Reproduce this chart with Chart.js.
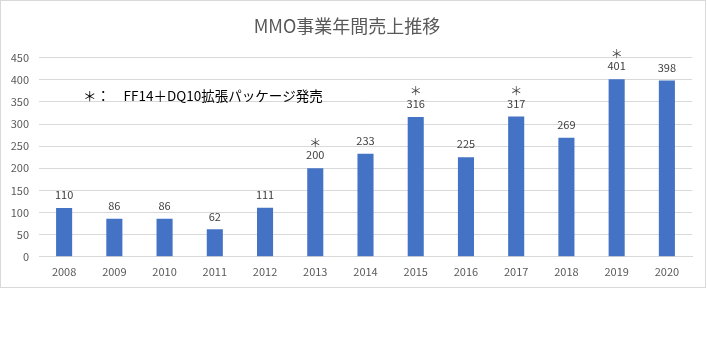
<!DOCTYPE html>
<html lang="ja">
<head>
<meta charset="utf-8">
<title>MMO事業年間売上推移</title>
<script src="https://cdn.jsdelivr.net/npm/chart.js@4/dist/chart.umd.min.js"></script>
<style>
  html, body { margin: 0; padding: 0; background: #fff; }
  #chartBox {
    position: absolute;
    left: 0;
    top: 0;
    width: 704px;
    height: 286px;
    border: 1px solid #d9d9d9;
    background: #fff;
  }
</style>
</head>
<body>
<div id="chartBox"><canvas id="salesChart" width="704" height="286"></canvas></div>
<script>
// Chart data
const years = ['2008', '2009', '2010', '2011', '2012', '2013', '2014', '2015', '2016', '2017', '2018', '2019', '2020'];
const sales = [110, 86, 86, 62, 111, 200, 233, 316, 225, 317, 269, 401, 398];
const releaseYears = ['2013', '2015', '2017', '2019'];
const yMax = 450;
const yStep = 50;
const noteText = '＊：　FF14＋DQ10拡張パッケージ発売';

const FONT = '"Noto Sans CJK JP", "Noto Sans", sans-serif';

// Value labels, release markers and the footnote
const labelPlugin = {
    id: 'barLabels',
    afterDatasetsDraw(chart) {
        const ctx = chart.ctx;
        const meta = chart.getDatasetMeta(0);
        ctx.save();
        ctx.textAlign = 'center';
        ctx.textBaseline = 'middle';
        meta.data.forEach((bar, i) => {
            const labelY = bar.y - 13;
            ctx.font = '11px ' + FONT;
            ctx.fillStyle = '#404040';
            ctx.fillText(String(sales[i]), bar.x, labelY);
            if (releaseYears.includes(years[i])) {
                ctx.font = '12px ' + FONT;
                ctx.fillStyle = '#404040';
                ctx.fillText('＊', bar.x, labelY - 12);
            }
        });

        const area = chart.chartArea;
        ctx.textAlign = 'left';
        ctx.font = '13.5px ' + FONT;
        ctx.fillStyle = '#000';
        ctx.fillText(noteText, area.left + 44, area.top + 38);
        ctx.restore();
    }
};

const salesCtx = document.getElementById('salesChart');
const salesChart = new Chart(salesCtx.getContext('2d'), {
    type: 'bar',
    data: {
        labels: years,
        datasets: [{
            label: '売上',
            data: sales,
            backgroundColor: '#4472c4',
            borderWidth: 0,
            barPercentage: 0.64,
            categoryPercentage: 0.5
        }]
    },
    options: {
        responsive: false,
        animation: false,
        devicePixelRatio: 1,
        layout: {
            padding: { left: 1, right: 13, top: 13, bottom: 1 }
        },
        plugins: {
            legend: { display: false },
            tooltip: { enabled: false },
            title: {
                display: true,
                text: 'MMO事業年間売上推移',
                color: '#595959',
                font: { family: FONT, size: 18, weight: 'normal' },
                padding: { top: 1, bottom: 21 }
            }
        },
        scales: {
            x: {
                grid: { display: false, drawTicks: false },
                border: { color: '#d9d9d9' },
                ticks: {
                    color: '#595959',
                    font: { family: FONT, size: 11 },
                    padding: 8,
                    maxRotation: 0
                }
            },
            y: {
                min: 0,
                max: yMax,
                afterFit: (scale) => { scale.width = 37; },
                grid: { color: '#d9d9d9', drawTicks: false },
                border: { display: false },
                ticks: {
                    stepSize: yStep,
                    color: '#595959',
                    font: { family: FONT, size: 11 },
                    padding: 10
                }
            }
        }
    },
    plugins: [labelPlugin]
});
</script>
</body>
</html>
